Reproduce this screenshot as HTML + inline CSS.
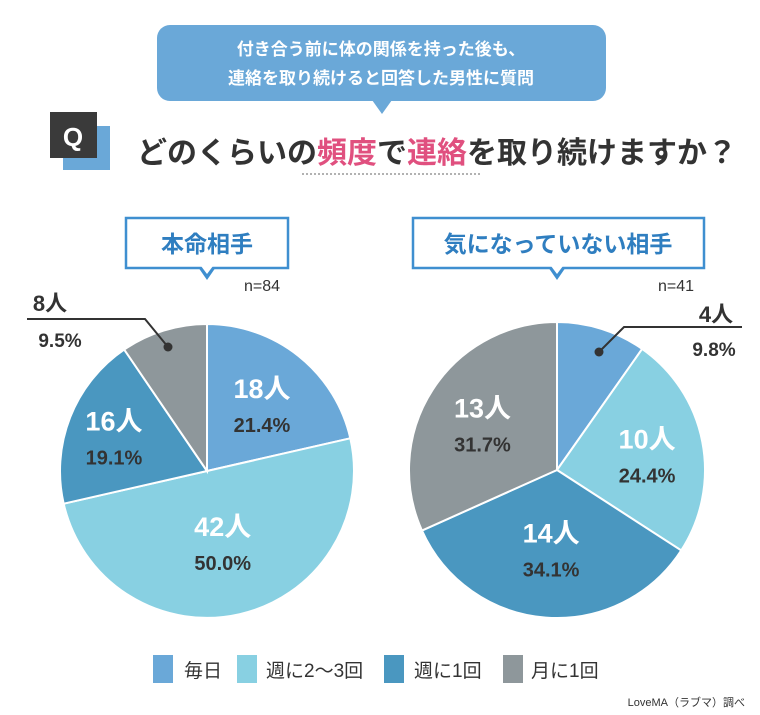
<!DOCTYPE html>
<html><head><meta charset="utf-8"><style>
body{margin:0;background:#fff;}
svg{display:block;font-family:"Liberation Sans","Noto Sans CJK JP",sans-serif;}
</style></head><body>
<svg id="chart" width="760" height="715" viewBox="0 0 760 715" xmlns="http://www.w3.org/2000/svg">
<g>
<rect x="157" y="25" width="449" height="76" rx="13" fill="#6aa8d8"/>
<polygon points="372,100 392,100 382,114" fill="#6aa8d8"/>
<text x="381" y="55" text-anchor="middle" font-size="17" font-weight="bold" fill="#fff">付き合う前に体の関係を持った後も、</text>
<text x="381" y="84" text-anchor="middle" font-size="17" font-weight="bold" fill="#fff">連絡を取り続けると回答した男性に質問</text>
</g>
<g>
<rect x="63" y="126" width="47" height="44" fill="#6aa8d8"/>
<rect x="50" y="112" width="47" height="46" fill="#3a3a3a"/>
<text x="73" y="146" text-anchor="middle" font-size="26" font-weight="bold" fill="#fff">Q</text>
</g>
<text x="137" y="163" font-size="30" font-weight="bold" fill="#333">どのくらいの<tspan fill="#e0507f">頻度</tspan>で<tspan fill="#e0507f">連絡</tspan>を取り続けますか？</text>
<line x1="302" y1="174" x2="481" y2="174" stroke="#999" stroke-width="1.5" stroke-dasharray="2,2"/>
<g>
<rect x="126" y="218" width="162" height="50" fill="#fff" stroke="#3f8fd0" stroke-width="2.5"/>
<polygon points="198,267 216,267 207,280" fill="#3f8fd0"/><polygon points="201,266 213,266 207,274" fill="#fff"/>
<text x="207" y="252" text-anchor="middle" font-size="23" font-weight="bold" fill="#2f7ec0">本命相手</text>
</g>
<g>
<rect x="413" y="218" width="291" height="50" fill="#fff" stroke="#3f8fd0" stroke-width="2.5"/>
<polygon points="548,267 566,267 557,280" fill="#3f8fd0"/><polygon points="551,266 563,266 557,274" fill="#fff"/>
<text x="558" y="252" text-anchor="middle" font-size="23" font-weight="bold" fill="#2f7ec0">気になっていない相手</text>
</g>
<text x="262" y="291" text-anchor="middle" font-size="16" fill="#333">n=84</text>
<text x="676" y="291" text-anchor="middle" font-size="16" fill="#333">n=41</text>
<g id="pies"></g>
<g>
<polyline points="27,319 145,319 168,347" fill="none" stroke="#333" stroke-width="2"/>
<circle cx="168" cy="347" r="4.5" fill="#333"/>
<text x="50" y="311" text-anchor="middle" font-size="22" font-weight="bold" fill="#333">8人</text>
<text x="60" y="347" text-anchor="middle" font-size="19" font-weight="bold" fill="#333">9.5%</text>
</g>
<g>
<polyline points="742,327 624,327 599,352" fill="none" stroke="#333" stroke-width="2"/>
<circle cx="599" cy="352" r="4.5" fill="#333"/>
<text x="716" y="322" text-anchor="middle" font-size="22" font-weight="bold" fill="#333">4人</text>
<text x="714" y="356" text-anchor="middle" font-size="19" font-weight="bold" fill="#333">9.8%</text>
</g>
<g>
<rect x="153" y="655" width="20" height="28" fill="#6aa8d8"/><text x="184" y="677" font-size="19" fill="#333">毎日</text>
<rect x="237" y="655" width="20" height="28" fill="#88d0e2"/><text x="266" y="677" font-size="19" fill="#333">週に2〜3回</text>
<rect x="384" y="655" width="20" height="28" fill="#4a97c0"/><text x="414" y="677" font-size="19" fill="#333">週に1回</text>
<rect x="503" y="655" width="20" height="28" fill="#8e979b"/><text x="531" y="677" font-size="19" fill="#333">月に1回</text>
</g>
<text x="745" y="706" text-anchor="end" font-size="11" fill="#333">LoveMA（ラブマ）調べ</text>
</svg>
<script>
const categories = ["毎日","週に2〜3回","週に1回","月に1回"];
const colors = ["#6aa8d8","#88d0e2","#4a97c0","#8e979b"];
const leftCounts = [18,42,16,8];
const leftPercents = ["21.4%","50.0%","19.1%","9.5%"];
const rightCounts = [4,10,14,13];
const rightPercents = ["9.8%","24.4%","34.1%","31.7%"];
const NS="http://www.w3.org/2000/svg";
const g=document.getElementById('pies');
function pt(cx,cy,r,f){const a=f*2*Math.PI;return [cx+r*Math.sin(a),cy-r*Math.cos(a)];}
function drawPie(name,cx,cy,r,counts,pcts,labelR,skipIdx){
  const tot=counts.reduce((a,b)=>a+b,0);let acc=0;
  counts.forEach((v,i)=>{
    const f0=acc/tot,f1=(acc+v)/tot;acc+=v;
    const p0=pt(cx,cy,r,f0),p1=pt(cx,cy,r,f1);
    const large=(f1-f0)>0.5?1:0;
    const path=document.createElementNS(NS,'path');
    path.setAttribute('d',`M${cx},${cy}L${p0[0]},${p0[1]}A${r},${r} 0 ${large} 1 ${p1[0]},${p1[1]}Z`);
    path.setAttribute('fill',colors[i]);path.setAttribute('stroke','#fff');path.setAttribute('stroke-width','2');
    
    
    g.appendChild(path);
    if(i===skipIdx) return;
    const m=pt(cx,cy,r*labelR[i],(f0+f1)/2);
    const t1=document.createElementNS(NS,'text');
    t1.setAttribute('x',m[0]);t1.setAttribute('y',m[1]-4);t1.setAttribute('text-anchor','middle');
    t1.setAttribute('font-size','27');t1.setAttribute('font-weight','bold');t1.setAttribute('fill','#fff');
    t1.textContent=v+'人';
    
    
    g.appendChild(t1);
    const t2=document.createElementNS(NS,'text');
    t2.setAttribute('x',m[0]);t2.setAttribute('y',m[1]+30);t2.setAttribute('text-anchor','middle');
    t2.setAttribute('font-size','20');t2.setAttribute('font-weight','bold');t2.setAttribute('fill','#333');
    t2.textContent=pcts[i];
    
    
    g.appendChild(t2);
  });
}
drawPie('left-pie',207,471,147,leftCounts,leftPercents,[0.6,0.48,0.68,0.6],3);
drawPie('right-pie',557,470,148,rightCounts,rightPercents,[0.6,0.62,0.52,0.6],0);
</script>
</body></html>
